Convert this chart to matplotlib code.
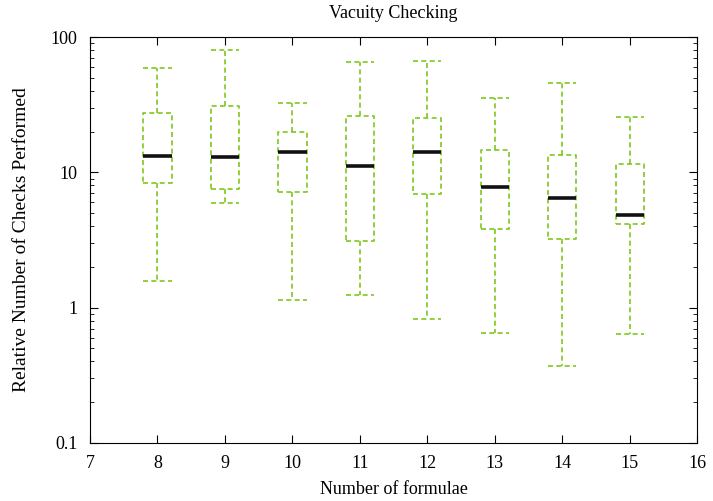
import numpy as np
import matplotlib
matplotlib.use('Agg')
import matplotlib.pyplot as plt
from matplotlib.ticker import FuncFormatter

formulae = [8, 9, 10, 11, 12, 13, 14, 15]
whislo = [1.57, 5.9, 1.14, 1.24, 0.82, 0.65, 0.37, 0.64]
q1 = [8.3, 7.5, 7.2, 3.1, 6.9, 3.8, 3.2, 4.17]
med = [13.2, 13.0, 14.1, 11.1, 14.1, 7.8, 6.5, 4.8]
q3 = [27.4, 30.9, 19.8, 26.0, 25.2, 14.7, 13.5, 11.5]
whishi = [59, 80, 32.7, 65.3, 66, 35.6, 45.7, 25.8]

plt.rcParams['font.family'] = ['Liberation Serif', 'DejaVu Serif']
plt.rcParams['font.size'] = 13

fig = plt.figure(figsize=(7.13, 5.01), dpi=100)
ax = fig.add_axes([0.126, 0.116, 0.852, 0.81])

stats = []
for i in range(len(formulae)):
    stats.append(dict(whislo=whislo[i], q1=q1[i], med=med[i], q3=q3[i],
                      whishi=whishi[i], fliers=[]))

green = '#7ec81c'
dash = (0, (3, 2))
ax.bxp(stats, positions=formulae, widths=0.42, showfliers=False,
       boxprops=dict(color=green, linestyle=dash, linewidth=1.2),
       whiskerprops=dict(color=green, linestyle=dash, linewidth=1.2),
       capprops=dict(color=green, linestyle=dash, linewidth=1.2),
       medianprops=dict(color='#111111', linewidth=2.6),
       capwidths=0.42)

ax.set_yscale('log')
ax.set_ylim(0.1, 100)
ax.set_xlim(7, 16)
ax.set_xticks(range(7, 17))
ax.set_xticklabels([str(v) for v in range(7, 17)])
ax.yaxis.set_major_formatter(FuncFormatter(lambda v, p: '%g' % v))
ax.tick_params(which='both', direction='in', top=True, right=True)
ax.tick_params(which='major', length=6, pad=9)
ax.tick_params(which='minor', length=3)
ax.tick_params(axis='x', which='minor', top=False, bottom=False)

ax.set_title('Vacuity Checking', fontsize=13, pad=14)
ax.set_xlabel('Number of formulae', labelpad=6)
ax.set_ylabel('Relative Number of Checks Performed', fontsize=14, labelpad=15)

fig.savefig('out.png', dpi=100)
